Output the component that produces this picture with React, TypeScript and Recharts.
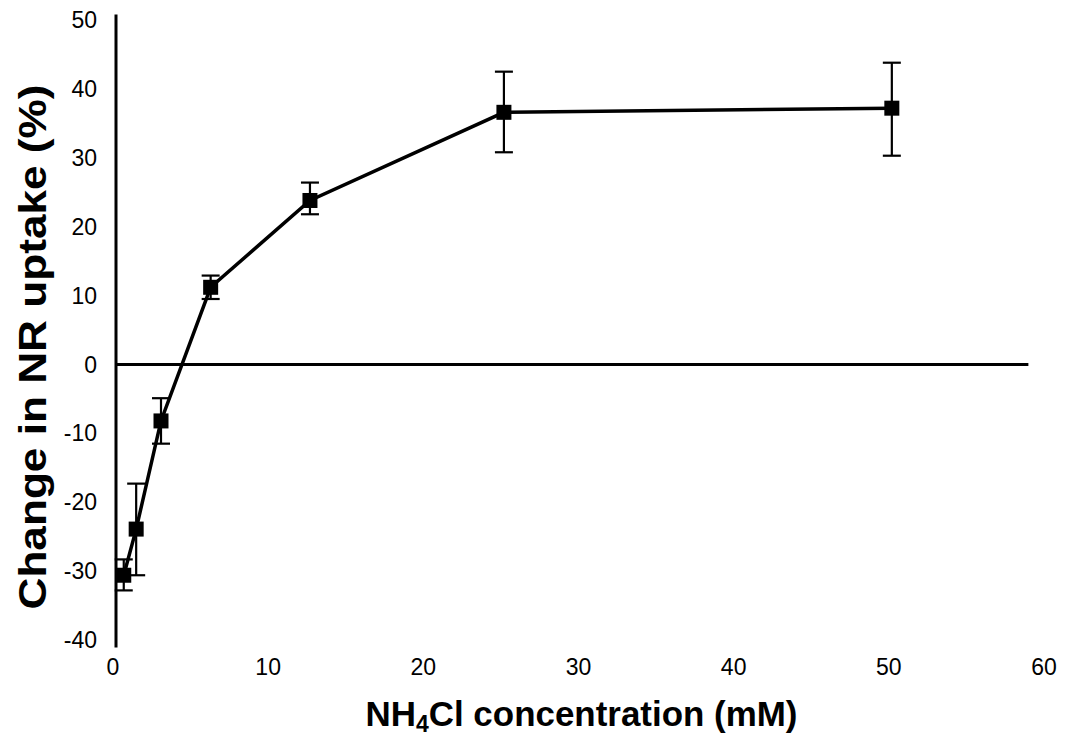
import {
  LineChart,
  Line,
  XAxis,
  YAxis,
  ErrorBar,
  ReferenceLine,
} from 'recharts'

const concentration = [0.5, 1.3, 2.9, 6.1, 12.5, 25, 50]
const uptakeChange = [-30.6, -23.9, -8.2, 11.2, 23.8, 36.6, 37.2]
const errLow = [2.2, 6.7, 3.3, 1.7, 2.0, 5.8, 6.9]
const errHigh = [2.3, 6.6, 3.3, 1.7, 2.6, 5.9, 6.6]
const xTicks = [0, 10, 20, 30, 40, 50, 60]
const yTicks = [-40, -30, -20, -10, 0, 10, 20, 30, 40, 50]

const data = concentration.map((x, i) => ({
  x,
  y: uptakeChange[i],
  err: [errLow[i], errHigh[i]],
}))

const FONT = '"Liberation Sans", Arial, sans-serif'
const tickStyle = { fontSize: 23, fill: '#000', fontFamily: FONT, style: { fontSize: 23 } }

function SquareDot(props: any) {
  const { cx, cy, index } = props
  if (cx == null || cy == null) return null
  return <rect key={`dot-${index}`} x={cx - 7.5} y={cy - 7.5} width={15} height={15} fill="#000" />
}

function YTitle(props: any) {
  const { viewBox } = props
  const x = viewBox.x + 33
  const y = viewBox.y + viewBox.height / 2 + 17
  return (
    <text
      x={x}
      y={y}
      transform={`rotate(-90, ${x}, ${y})`}
      textAnchor="middle"
      dominantBaseline="central"
      textLength={525}
      lengthAdjust="spacingAndGlyphs"
      style={{ fontSize: 38, fontWeight: 700, fontFamily: FONT, fill: '#000' }}
    >
      Change in NR uptake (%)
    </text>
  )
}

function XTitle(props: any) {
  const { viewBox } = props
  const x = viewBox.x + viewBox.width / 2
  const y = viewBox.y + 86
  return (
    <text
      x={x}
      y={y}
      textAnchor="middle"
      textLength={432}
      lengthAdjust="spacingAndGlyphs"
      style={{ fontSize: 35, fontWeight: 700, fontFamily: FONT, fill: '#000' }}
    >
      NH
      <tspan fontSize={23} dy={6}>4</tspan>
      <tspan dy={-6}>Cl concentration (mM)</tspan>
    </text>
  )
}

export default function App() {
  return (
    <div style={{ position: 'absolute', left: 0, top: 0, width: 1069, height: 740, background: '#fff', fontFamily: FONT }}>
      <LineChart width={1069} height={740} data={data} margin={{ top: 20, right: 22, left: 0, bottom: 0 }}>
        <XAxis
          dataKey="x"
          type="number"
          domain={[0, 60]}
          ticks={xTicks}
          height={100}
          axisLine={false}
          tickLine={false}
          tickSize={0}
          tickMargin={19}
          tick={{ ...tickStyle, dx: -3 }}
          label={<XTitle />}
        />
        <YAxis
          type="number"
          domain={[-40, 50]}
          ticks={yTicks}
          width={116}
          axisLine={false}
          tickLine={false}
          tickSize={0}
          tickMargin={19}
          tick={tickStyle}
          label={<YTitle />}
        />
        <ReferenceLine
          segment={[{ x: 0, y: -41.1 }, { x: 0, y: 50.8 }]}
          stroke="#000"
          strokeWidth={3}
          ifOverflow="visible"
        />
        <ReferenceLine
          segment={[{ x: 0, y: 0 }, { x: 58.8, y: 0 }]}
          stroke="#000"
          strokeWidth={3}
          ifOverflow="visible"
        />
        <Line
          dataKey="y"
          type="linear"
          stroke="#000"
          strokeWidth={3.5}
          dot={SquareDot}
          activeDot={false}
          isAnimationActive={false}
        >
          <ErrorBar dataKey="err" direction="y" width={9} stroke="#000" strokeWidth={2.2} />
        </Line>
      </LineChart>
    </div>
  )
}
